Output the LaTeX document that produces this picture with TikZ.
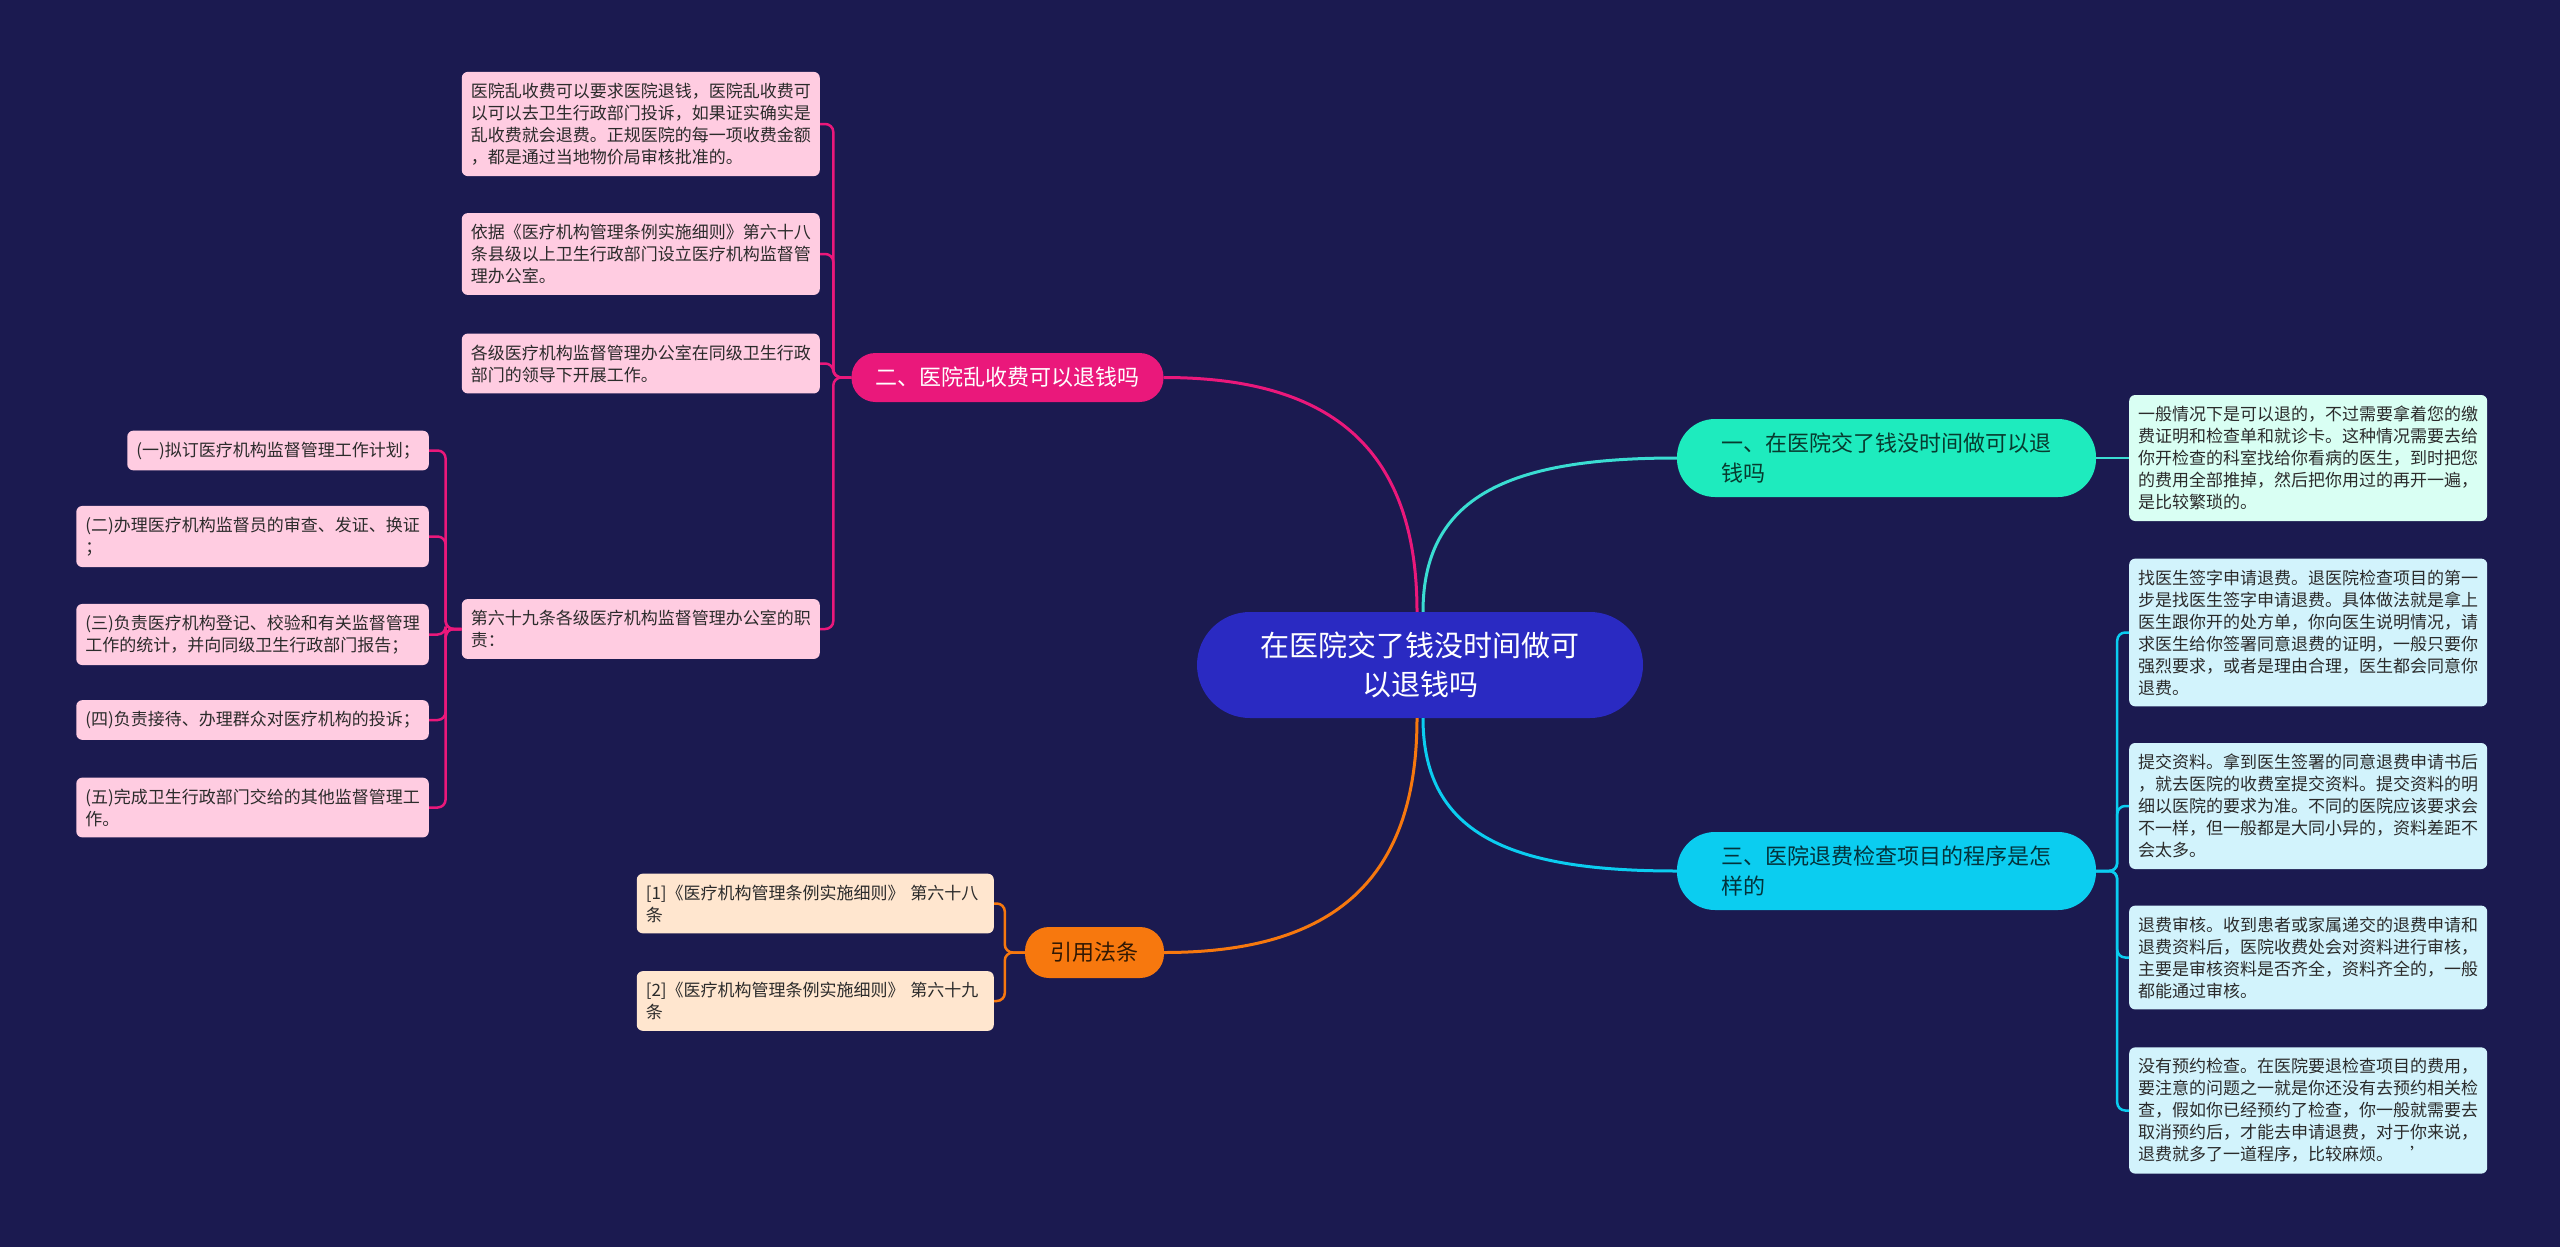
\documentclass[tikz,border=0pt]{standalone}
\usepackage{fontspec}
\setmainfont{Noto Sans CJK SC}

\definecolor{bgcol}{HTML}{1B1A50}
\definecolor{rootcol}{HTML}{2A2AC2}
\definecolor{pinkcol}{HTML}{EA187B}
\definecolor{pinkpale}{HTML}{FFCCE1}
\definecolor{mintcol}{HTML}{1EEBBE}
\definecolor{mintline}{HTML}{3ADDD2}
\definecolor{mintpale}{HTML}{D9FFF3}
\definecolor{skycol}{HTML}{0BCDF0}
\definecolor{skypale}{HTML}{D2F3FC}
\definecolor{orangecol}{HTML}{F7780E}
\definecolor{orangepale}{HTML}{FFE6CF}
\definecolor{leaftext}{HTML}{2B2B2B}

\tikzset{
  root/.style={fill=rootcol, text=white, rounded corners=53, align=center,
    minimum width=446, minimum height=106, font=\fontsize{29}{39}\selectfont},
  branch/.style={rounded corners=24, minimum height=49, inner xsep=24,
    font=\fontsize{22}{30}\selectfont},
  widebranch/.style={rounded corners=38, minimum width=419, minimum height=78,
    text width=330, align=left, font=\fontsize{22}{30}\selectfont},
  leaf/.style={rounded corners=6, inner xsep=9, inner ysep=11, align=left,
    text=leaftext, font=\fontsize{17}{22}\selectfont},
  pinkleaf/.style={leaf, fill=pinkpale},
  mintleaf/.style={leaf, fill=mintpale},
  skyleaf/.style={leaf, fill=skypale},
  orangeleaf/.style={leaf, fill=orangepale, text width=339},
  mainline/.style={line width=3},
  subline/.style={line width=2.5, rounded corners=8},
}

\begin{document}
\begin{tikzpicture}[x=1pt, y=-1pt]
  \fill[bgcol] (0,0) rectangle (2560,1247);

  % root and main branches
  \node[root] (c) at (1420,665) {在医院交了钱没时间做可\\以退钱吗};
  \node[branch, fill=pinkcol, text=white] (b2) at (1007.5,377.5) {二、医院乱收费可以退钱吗};
  \node[widebranch, fill=mintcol, text=mintcol!25!black] (b1) at (1886.5,458) {一、在医院交了钱没时间做可以退\\钱吗};
  \node[widebranch, fill=skycol, text=skycol!25!black] (b3) at (1886.5,871) {三、医院退费检查项目的程序是怎\\样的};
  \node[branch, fill=orangecol, text=orangecol!20!black, minimum width=139, minimum height=51] (b4) at (1094.5,952.5) {引用法条};

  % left: 二
  \node[pinkleaf, anchor=east] (l1) at (820,124) {医院乱收费可以要求医院退钱，医院乱收费可\\以可以去卫生行政部门投诉，如果证实确实是\\乱收费就会退费。正规医院的每一项收费金额\\，都是通过当地物价局审核批准的。};
  \node[pinkleaf, anchor=east] (l2) at (820,254) {依据《医疗机构管理条例实施细则》第六十八\\条县级以上卫生行政部门设立医疗机构监督管\\理办公室。};
  \node[pinkleaf, anchor=east] (l3) at (820,363.5) {各级医疗机构监督管理办公室在同级卫生行政\\部门的领导下开展工作。};
  \node[pinkleaf, anchor=east] (l4) at (820,629) {第六十九条各级医疗机构监督管理办公室的职\\责：};

  \node[pinkleaf, anchor=east] (s1) at (429,450.5) {(一)拟订医疗机构监督管理工作计划；};
  \node[pinkleaf, anchor=east] (s2) at (429,536.5) {(二)办理医疗机构监督员的审查、发证、换证\\；};
  \node[pinkleaf, anchor=east] (s3) at (429,634.5) {(三)负责医疗机构登记、校验和有关监督管理\\工作的统计，并向同级卫生行政部门报告；};
  \node[pinkleaf, anchor=east] (s4) at (429,720) {(四)负责接待、办理群众对医疗机构的投诉；};
  \node[pinkleaf, anchor=east] (s5) at (429,807.5) {(五)完成卫生行政部门交给的其他监督管理工\\作。};

  % right: 一 and 三
  \node[mintleaf, anchor=west] (m1) at (2129,458) {一般情况下是可以退的，不过需要拿着您的缴\\费证明和检查单和就诊卡。这种情况需要去给\\你开检查的科室找给你看病的医生，到时把您\\的费用全部推掉，然后把你用过的再开一遍，\\是比较繁琐的。};

  \node[skyleaf, anchor=west] (t1) at (2129,632.5) {找医生签字申请退费。退医院检查项目的第一\\步是找医生签字申请退费。具体做法就是拿上\\医生跟你开的处方单，你向医生说明情况，请\\求医生给你签署同意退费的证明，一般只要你\\强烈要求，或者是理由合理，医生都会同意你\\退费。};
  \node[skyleaf, anchor=west] (t2) at (2129,806) {提交资料。拿到医生签署的同意退费申请书后\\，就去医院的收费室提交资料。提交资料的明\\细以医院的要求为准。不同的医院应该要求会\\不一样，但一般都是大同小异的，资料差距不\\会太多。};
  \node[skyleaf, anchor=west] (t3) at (2129,957.5) {退费审核。收到患者或家属递交的退费申请和\\退费资料后，医院收费处会对资料进行审核，\\主要是审核资料是否齐全，资料齐全的，一般\\都能通过审核。};
  \node[skyleaf, anchor=west] (t4) at (2129,1110.5) {没有预约检查。在医院要退检查项目的费用，\\要注意的问题之一就是你还没有去预约相关检\\查，假如你已经预约了检查，你一般就需要去\\取消预约后，才能去申请退费，对于你来说，\\退费就多了一道程序，比较麻烦。\quad ’};

  % 引用法条
  \node[orangeleaf, anchor=east] (r1) at (994,903.5) {[1]《医疗机构管理条例实施细则》 第六十八\\条};
  \node[orangeleaf, anchor=east] (r2) at (994,1001) {[2]《医疗机构管理条例实施细则》 第六十九\\条};

  % root to branches
  \draw[mainline, pinkcol] ([xshift=-3]c.north) .. controls +(0,-170) and +(160,0) .. (b2.east);
  \draw[mainline, mintline] ([xshift=3]c.north) .. controls +(0,-120) and +(-160,0) .. (b1.west);
  \draw[mainline, orangecol] ([xshift=-3]c.south) .. controls +(0,170) and +(160,0) .. (b4.east);
  \draw[mainline, skycol] ([xshift=3]c.south) .. controls +(0,120) and +(-160,0) .. (b3.west);

  % branches to leaves
  \foreach \n in {l1,l2,l3,l4}
    \draw[subline, pinkcol] (b2.west) -- ++(-18,0) |- (\n.east);
  \foreach \n in {s1,s2,s3,s4,s5}
    \draw[subline, pinkcol] (l4.west) -- ++(-16,0) |- (\n.east);
  \draw[subline, mintline] (b1.east) -- (m1.west);
  \foreach \n in {t1,t2,t3,t4}
    \draw[subline, skycol] (b3.east) -- ++(21,0) |- (\n.west);
  \foreach \n in {r1,r2}
    \draw[subline, orangecol] (b4.west) -- ++(-20,0) |- (\n.east);
\end{tikzpicture}
\end{document}
